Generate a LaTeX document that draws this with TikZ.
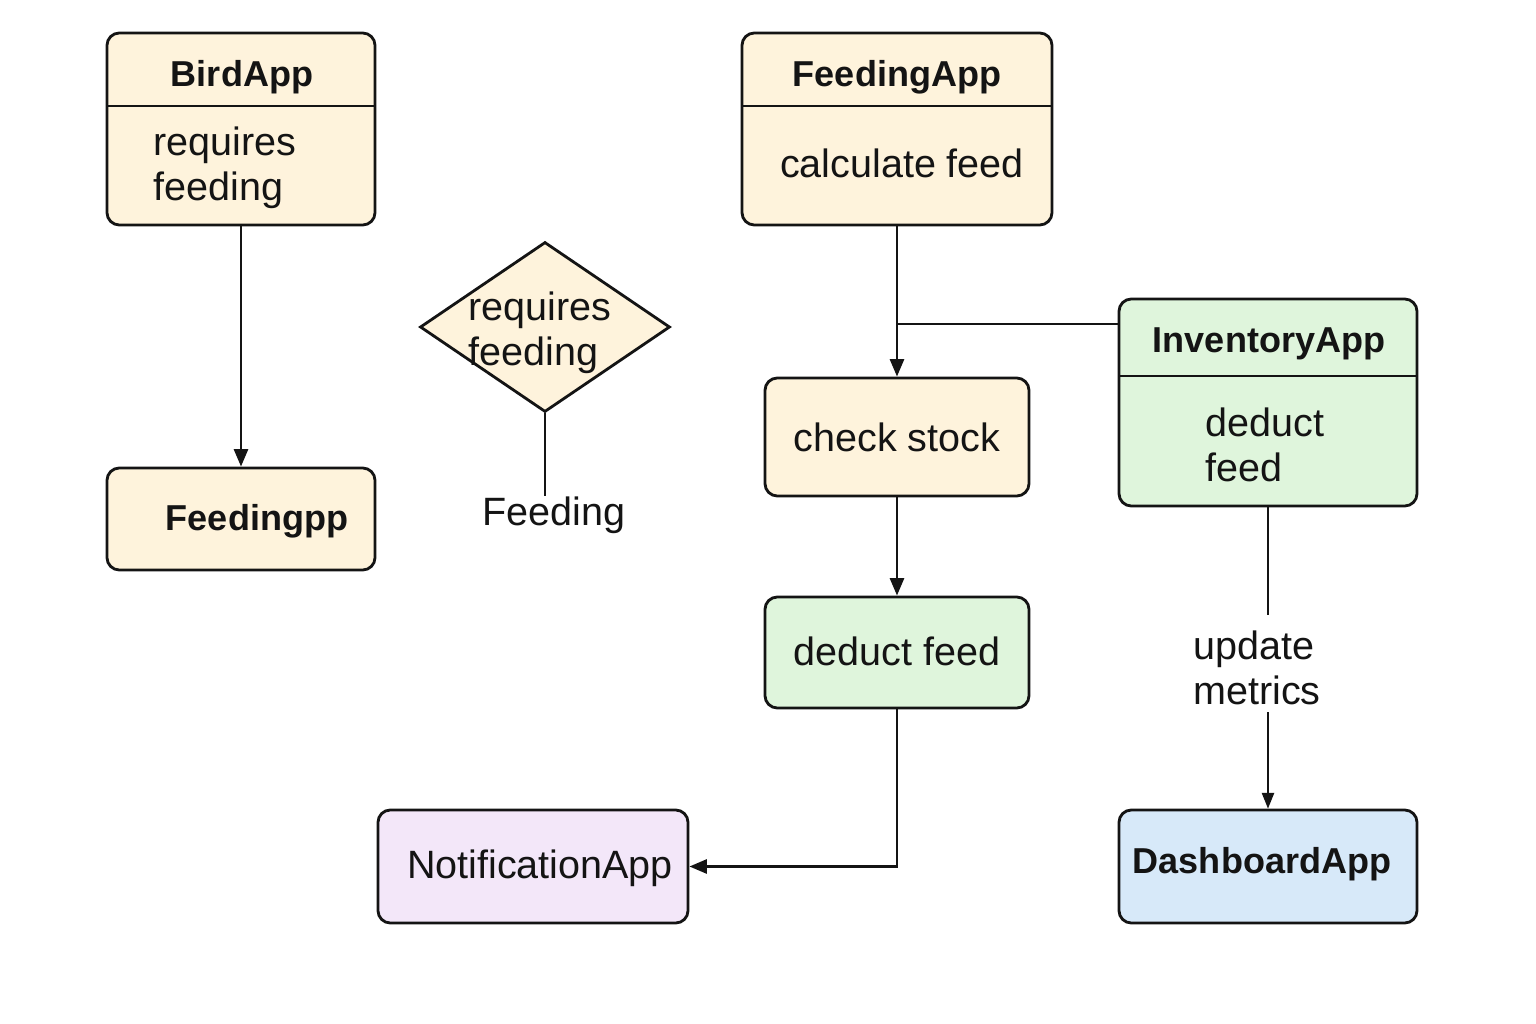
\documentclass[tikz,border=0pt]{standalone}
\usepackage{fontspec}
\setmainfont{Liberation Sans}
\usetikzlibrary{shapes.geometric,arrows.meta,fit}
\definecolor{cream}{HTML}{FEF3DC}
\definecolor{mint}{HTML}{DFF5DC}
\definecolor{lilac}{HTML}{F3E7F9}
\definecolor{skyb}{HTML}{D7E9F9}
\definecolor{linec}{HTML}{141414}
\begin{document}
\begin{tikzpicture}[x=0.02cm,y=-0.02cm,
  box/.style={draw=linec, line width=1.6pt, rounded corners=7pt, inner sep=0pt},
  body/.style={font=\fontsize{22.5pt}{25.5pt}\selectfont, inner sep=0pt, text=linec},
  title/.style={font=\fontsize{20.5pt}{24pt}\selectfont\bfseries, inner sep=0pt, text=linec},
  conn/.style={draw=linec, line width=1.6pt},
  thinconn/.style={draw=linec, line width=1pt},
  arr/.style={conn, -{Triangle[length=10pt,width=8pt]}},
  thinarr/.style={thinconn, -{Triangle[length=9pt,width=7pt]}},
  divider/.style={draw=linec, line width=1.6pt}
]
\useasboundingbox (0,0) rectangle (1536,1024);
\fill[white] (0,0) rectangle (1536,1024);

% BirdApp
\node[box, fill=cream, fit={(107,33) (375,225)}] (bird) {};
\draw[divider] (107,106) -- (375,106);
\node[title] (birdt) at (242,77) {BirdApp};
\node[body, align=left, anchor=west] (birdb) at (153,168) {requires\\feeding};

% Feedingpp
\node[box, fill=cream, fit={(107,468) (375,570)}] (feedpp) {};
\node[title] (feedppt) at (257,521) {Feedingpp};

% Diamond
\node[diamond, draw=linec, line width=1.6pt, fill=cream, minimum width=5cm, minimum height=3.4cm, inner sep=0pt] (dia) at (545,327) {};
\node[body, align=left] (diat) at (540,333) {requires\\feeding};
\node[body] (feedlbl) at (554,515) {Feeding};

% FeedingApp
\node[box, fill=cream, fit={(742,33) (1052,225)}] (fapp) {};
\draw[divider] (742,106) -- (1052,106);
\node[title] (fappt) at (897,77) {FeedingApp};
\node[body] (fappb) at (902,163) {calculate feed};

% check stock
\node[box, fill=cream, fit={(765,378) (1029,496)}] (check) {};
\node[body] (checkt) at (897,437) {check stock};

% InventoryApp
\node[box, fill=mint, fit={(1119,299) (1417,506)}] (inv) {};
\draw[divider] (1119,376) -- (1417,376);
\node[title] (invt) at (1269,344) {InventoryApp};
\node[body, align=left, anchor=west] (invb) at (1205,445) {deduct\\feed};

% deduct feed
\node[box, fill=mint, fit={(765,597) (1029,708)}] (deduct) {};
\node[body] (deductt) at (897,651) {deduct feed};

% NotificationApp
\node[box, fill=lilac, fit={(378,810) (688,923)}] (notif) {};
\node[body] (notift) at (540,868) {NotificationApp};

% DashboardApp
\node[box, fill=skyb, fit={(1119,810) (1417,923)}] (dash) {};
\node[title] (dasht) at (1262,864) {DashboardApp};

% update metrics label
\node[body, align=left, anchor=west] (upd) at (1193,668) {update\\metrics};
\coordinate (u1) at (1268,615);
\coordinate (u2) at (1268,712);

% connectors
\draw[arr] (bird.south) -- (feedpp.north);
\draw[conn] (dia.south) -- (dia.south |- feedlbl.north);
\draw[arr] (fapp.south) -- (fapp.south |- check.north);
\coordinate (j) at (897,324);
\draw[conn] (j) -- (j -| inv.west);
\draw[arr] (check.south) -- (deduct.north);
\draw[arr] (deduct.south) |- (notif.east);
\draw[thinconn] (inv.south) -- (inv.south |- u1);
\draw[thinarr] (inv.south |- u2) -- (dash.north);
\end{tikzpicture}
\end{document}
